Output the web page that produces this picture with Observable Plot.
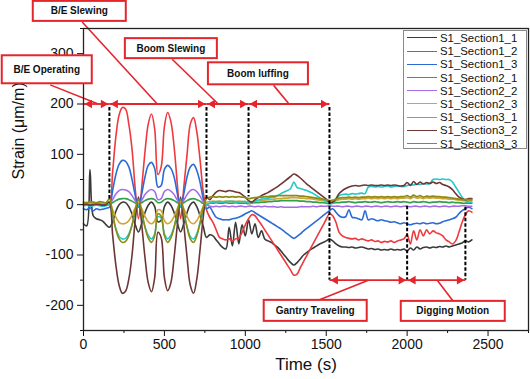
<!DOCTYPE html>
<html><head><meta charset="utf-8">
<script src="https://cdn.jsdelivr.net/npm/d3@7"></script>
<script src="https://cdn.jsdelivr.net/npm/@observablehq/plot@0.6"></script>
<style>
body{margin:0;background:#fff;font-family:"Liberation Sans",Arial,sans-serif}
#wrap{position:relative;width:530px;height:379px;overflow:hidden}
#legend{position:absolute;left:403px;top:30px;width:124px;height:119px;border:1px solid #8a8a8a;background:#fff;box-sizing:border-box;padding-top:1px}
.row{height:13.2px;line-height:13.2px;font-size:11.4px;white-space:nowrap;color:#111}
.sw{display:inline-block;width:30px;height:0;border-top:1px solid;vertical-align:middle;margin:0 3px 0 3px;position:relative;top:-1px}
</style></head>
<body><div id="wrap"><div id="legend"></div></div>
<script>
// ---------- DATA ----------
const time = [0,20,40,60,80,100,120,140,160,180,200,220,240,260,280,300,320,340,360,380,400,420,440,460,480,500,520,540,560,580,600,620,640,660,680,700,720,740,760,780,800,820,840,860,880,900,920,940,960,980,1000,1020,1040,1060,1080,1100,1120,1140,1160,1180,1200,1220,1240,1260,1280,1300,1320,1340,1360,1380,1400,1420,1440,1460,1480,1500,1520,1540,1560,1580,1600,1620,1640,1660,1680,1700,1720,1740,1760,1780,1800,1820,1840,1860,1880,1900,1920,1940,1960,1980,2000,2020,2040,2060,2080,2100,2120,2140,2160,2180,2200,2220,2240,2260,2280,2300,2320,2340,2360,2380,2400];

const seriesNames = ["S1_Section1_1","S1_Section1_2","S1_Section1_3","S1_Section2_1","S1_Section2_2","S1_Section2_3","S1_Section3_1","S1_Section3_2","S1_Section3_3"];

const s1_1 = [-38,-42,70,-22,-28,-30,-33,-40,
 -45,-34,-13,0,5,4,-4,-19,-40,-54,
 -37,-16,-1,5,-4,-34,-31,-4,5,-1,
 -16,-37,-54,-37,-16,0,5,-4,-22,-43,
 -65,
 -60,-62,-70,-78,-85,-88,-45,-82,-35,-78,
 -40,-62,-30,-58,-38,-65,-52,-68,-72,-75,
 -80,-85,-92,-100,-108,-115,-120,-115,-108,-100,
 -95,-90,-86,-82,-78,-75,-72,-68,-72,-78,
 -82,-84,-84,-85,-84,-86,-85,-84,-86,-88,
 -87,-89,-88,-90,-89,-90,-88,-90,-89,-90,
 -88,-92,-86,-90,-84,-88,-85,-84,-86,-84,
 -85,-83,-84,-82,-84,-82,-80,-78,-76,-72,
 -74,-70];
const s1_2 = [2,3,3,4,3,2,3,2,
 0,65,135,178,193,190,160,110,30,-28,
 35,105,160,180,150,60,75,155,183,165,
 115,40,-28,35,100,160,173,145,90,25,
 -10,
 -25,-35,-50,-65,-68,-70,-68,-72,-68,-66,
 -55,-40,-28,-20,-22,-31,-40,-50,-60,-70,
 -80,-90,-100,-110,-120,-130,-140,-138,-125,-113,
 -101,-89,-77,-65,-53,-41,-29,-18,-22,-35,
 -55,-62,-65,-67,-68,-67,-70,-68,-70,-72,
 -70,-73,-72,-75,-73,-74,-72,-75,-72,-70,
 -68,-60,-78,-52,-70,-50,-62,-50,-58,-52,
 -56,-58,-62,-70,-74,-78,-72,-55,-35,-20,
 -12,-15];
const s1_3 = [-8,-10,-6,-12,-8,-10,-9,-7,
 -5,28,60,80,88,86,75,50,18,-5,
 22,55,78,84,72,35,38,70,78,72,
 55,22,-5,22,55,75,80,68,45,12,
 -8,
 -5,-15,-25,-28,-30,-30,-30,-28,-27,-25,
 -22,-18,-15,-12,-16,-20,-24,-28,-32,-36,
 -40,-44,-48,-53,-58,-63,-67,-63,-58,-52,
 -47,-42,-37,-32,-27,-22,-17,-12,-8,-15,
 -22,-25,-24,-10,-25,-26,-28,-30,-12,-30,
 -28,-30,-32,-30,-32,-33,-35,-34,-36,-38,
 -36,-38,-40,-38,-37,-38,-36,-38,-37,-36,
 -38,-37,-34,-32,-30,-28,-25,-18,-12,-8,
 -5,-8];
const s2_1 = [0,1,0,1,0,1,0,0,
 0,4,8,11,12,12,10,7,3,0,
 4,8,11,12,10,4,5,10,12,11,
 8,4,0,4,8,11,12,10,7,2,
 0,
 3,3,4,3,3,4,3,3,4,3,
 3,3,2,3,4,4,5,5,6,6,
 7,7,8,8,8,8,8,8,7,7,
 6,6,5,5,4,4,3,2,3,4,
 4,5,5,6,5,4,5,5,6,5,
 5,6,5,4,5,6,5,5,6,5,
 6,5,4,6,5,5,6,5,4,5,
 5,6,5,5,4,5,4,4,3,3,
 3,3];
const s2_2 = [1,0,1,0,1,0,1,0,
 0,10,21,28,30,29,26,18,8,1,
 9,20,27,30,26,10,12,26,30,27,
 20,9,1,9,20,28,30,26,17,6,
 0,
 -3,-4,-3,-4,-3,-3,-4,-3,-4,-3,
 -3,-4,-3,-3,-4,-3,-4,-3,-4,-4,
 -4,-5,-4,-5,-5,-5,-5,-5,-4,-4,
 -4,-4,-3,-4,-3,-3,-3,-2,-3,-3,
 -3,-4,-3,-3,-4,-3,-3,-4,-3,-3,
 -4,-3,-3,-4,-3,-3,-4,-3,-3,-4,
 -3,-3,-4,-3,-3,-4,-3,-3,-4,-3,
 -3,-4,-3,-3,-4,-3,-3,-3,-2,-2,
 -3,-3];
const s2_3 = [3,4,3,4,3,4,3,4,
 5,-10,-25,-35,-38,-37,-32,-21,-6,4,
 -8,-23,-34,-38,-32,-10,-12,-32,-38,-34,
 -23,-8,4,-8,-23,-35,-38,-32,-19,-4,
 5,
 6,7,6,7,6,7,6,7,6,7,
 6,6,5,6,7,8,8,9,10,10,
 11,12,12,13,13,14,14,14,13,13,
 12,12,11,10,9,8,7,5,6,8,
 10,11,11,12,11,12,11,12,12,13,
 12,13,12,13,12,13,12,13,12,13,
 13,14,12,15,13,14,12,14,13,14,
 13,13,12,12,11,11,10,9,8,8,
 8,8];
const s3_1 = [-2,-1,-3,-2,-1,-2,-3,-2,
 0,-24,-48,-63,-68,-67,-58,-41,-17,-1,
 -20,-44,-61,-68,-58,-24,-27,-58,-68,-61,
 -44,-20,-1,-20,-44,-63,-68,-58,-37,-14,
 0,
 3,5,6,6,5,6,7,6,6,5,
 6,6,3,4,7,9,11,12,13,14,
 15,18,22,25,28,32,45,34,32,30,
 28,25,22,18,14,10,6,2,3,10,
 18,20,21,20,22,21,22,23,22,35,
 36,35,36,35,36,37,35,36,37,36,
 36,38,40,39,41,40,42,41,42,50,
 51,50,51,50,50,45,35,25,15,8,
 5,5];
const s3_2 = [0,1,-1,0,1,0,-1,0,
 5,-60,-120,-160,-176,-172,-148,-100,-30,15,
 -40,-105,-155,-173,-145,-55,-65,-145,-171,-155,
 -105,-40,15,-40,-105,-160,-176,-148,-90,-25,
 15,
 10,18,25,28,27,26,28,27,25,24,
 20,15,8,5,10,14,18,21,24,28,
 32,36,41,46,51,56,61,58,53,47,
 41,36,31,26,21,16,11,5,5,12,
 22,28,32,35,37,38,37,38,39,38,
 39,38,38,39,38,39,38,39,38,37,
 38,44,38,46,40,45,41,44,42,45,
 42,44,40,38,35,30,22,15,12,10,
 12,12];
const s3_3 = [5,4,6,5,4,6,5,4,
 12,-18,-49,-68,-75,-73,-62,-40,-10,10,
 -14,-45,-66,-75,-62,-18,-23,-62,-75,-66,
 -45,-14,10,-14,-45,-68,-75,-62,-36,-5,
 12,
 15,16,15,16,15,16,15,16,15,16,
 15,14,12,13,14,15,15,16,16,17,
 17,18,18,18,18,18,18,18,17,17,
 16,15,14,13,12,11,10,8,9,11,
 13,14,14,15,14,15,14,15,15,16,
 15,16,15,16,15,16,15,16,15,16,
 16,18,15,19,16,18,15,17,16,17,
 16,16,15,15,14,13,12,11,10,10,
 10,10];

const xTicks = [0,500,1000,1500,2000,2500];
const xMinorTicks = [250,750,1250,1750,2250,2750];
const yTicks = [-200,-100,0,100,200,300];
const yMinorTicks = [-250,-150,-50,50,150,250,350];

// operating phases (time spans in s, strain level of the span arrow)
const phaseLabels = ["B/E Operating","B/E Slewing","Boom Slewing","Boom luffing","Gantry Traveling","Digging Motion"];
const phaseStart = [0,160,760,1020,1520,2000];
const phaseEnd = [160,760,1020,1520,2000,2360];
const phaseLevel = [200,200,200,200,-150,-150];
// dashed phase boundaries
const boundaryTime = [160,760,1020,1520,2000,2360];
const boundaryTop = [193,193,193,193,-3,-5];
const boundaryBottom = [10,8,15,-150,-150,-150];

// ---------- LAYOUT / STYLE ----------
const seriesColors = ["#3a3a3a","#ee3a3e","#2b6bd6","#35a04a","#a56ce6","#cfa53c","#22c8c8","#6e3535","#8c8c10"];
const RED = "#e5252c";
// callout box centres / leader starts in data coordinates, box sizes in px
const callout = {
  boxT:[-224,-23,543,1081,1435,2285], boxV:[268,384,310,260,-211,-212],
  boxW:[90,93,92,100,103,104], boxH:[28,20,20,22,21,20],
  leadT:[-206,-8,548,1175,1451,2285], leadV:[238,363,289,237,-190,-192],
  tipT:[91,456,833,1270,1760,2186]
};

// ---------- BUILD ----------
const values = [s1_1,s1_2,s1_3,s2_1,s2_2,s2_3,s3_1,s3_2,s3_3];
const phases = phaseLabels.map((l,i)=>({label:l,start:phaseStart[i],end:phaseEnd[i],level:phaseLevel[i]}));
const bounds = boundaryTime.map((t,i)=>({t,y1:boundaryTop[i],y2:boundaryBottom[i]}));
const leaders = phaseLabels.map((l,i)=>({x1:callout.leadT[i],y1:callout.leadV[i],x2:callout.tipT[i],y2:phaseLevel[i]}));
const plain = d => String(d);

const marks = [];
values.forEach((arr,k)=>{
  marks.push(Plot.line(time.map((t,i)=>({t,v:arr[i]})),{x:"t",y:"v",stroke:seriesColors[k],strokeWidth:1.6,curve:"catmull-rom"}));
});
marks.push(Plot.ruleX(bounds,{x:"t",y1:"y1",y2:"y2",stroke:"#000",strokeWidth:2,strokeDasharray:"3.5,2"}));
marks.push(Plot.link(leaders,{x1:"x1",y1:"y1",x2:"x2",y2:"y2",stroke:RED,strokeWidth:1.6}));
marks.push(Plot.link(phases,{x1:"start",x2:"end",y1:"level",y2:"level",stroke:RED,strokeWidth:1.8}));
marks.push(Plot.dot(phases,{x:"end",y:"level",symbol:"triangle",r:3.2,fill:RED,stroke:null,rotate:90,dx:-6}));
marks.push(Plot.dot(phases,{x:"start",y:"level",symbol:"triangle",r:3.2,fill:RED,stroke:null,rotate:-90,dx:6}));
marks.push(Plot.axisX({ticks:xTicks,tickSize:6,tickPadding:3,fontSize:14,tickFormat:plain,label:null}));
marks.push(Plot.axisX({ticks:xMinorTicks,tickSize:3,tickFormat:()=>"",label:null}));
marks.push(Plot.axisY({ticks:yTicks,tickSize:6,tickPadding:4,fontSize:14,tickFormat:plain,label:null}));
marks.push(Plot.axisY({ticks:yMinorTicks,tickSize:3,tickFormat:()=>"",label:null}));
marks.push(Plot.frame({stroke:"#222",strokeWidth:1.3}));
marks.push(Plot.text(["Time (s)"],{text:d=>d,frameAnchor:"bottom",dy:39,fontSize:17}));
marks.push(Plot.text(["Strain (μm/m)"],{text:d=>d,frameAnchor:"left",dx:-65,rotate:-90,fontSize:16}));

const chart = Plot.plot({
  width:530,height:379,
  marginLeft:83,marginRight:2,marginTop:28,marginBottom:49,
  x:{domain:[0,2750]},
  y:{domain:[-250,350]},
  style:{fontFamily:"'Liberation Sans',Arial,sans-serif",background:"#fff",color:"#111",overflow:"visible"},
  marks
});
document.getElementById("wrap").prepend(chart);

// callout boxes via the plot's own scales
const sx = chart.scale("x"), sy = chart.scale("y");
const g = d3.select(chart).append("g");
phaseLabels.forEach((l,i)=>{
  const cx = sx.apply(callout.boxT[i]), cy = sy.apply(callout.boxV[i]);
  const w = callout.boxW[i], h = callout.boxH[i];
  g.append("rect").attr("x",cx-w/2).attr("y",cy-h/2).attr("width",w).attr("height",h)
   .attr("fill","#fff").attr("stroke",RED).attr("stroke-width",2);
  g.append("text").attr("x",cx).attr("y",cy).attr("text-anchor","middle").attr("dy","0.35em")
   .attr("font-size",10).attr("font-weight","bold").attr("fill","#111").text(l);
});

// legend
const lg = document.getElementById("legend");
seriesNames.forEach((n,k)=>{
  const r = document.createElement("div"); r.className="row";
  const s = document.createElement("span"); s.className="sw"; s.style.borderTopColor=seriesColors[k];
  r.appendChild(s); r.appendChild(document.createTextNode(n)); lg.appendChild(r);
});
</script>
</body></html>
